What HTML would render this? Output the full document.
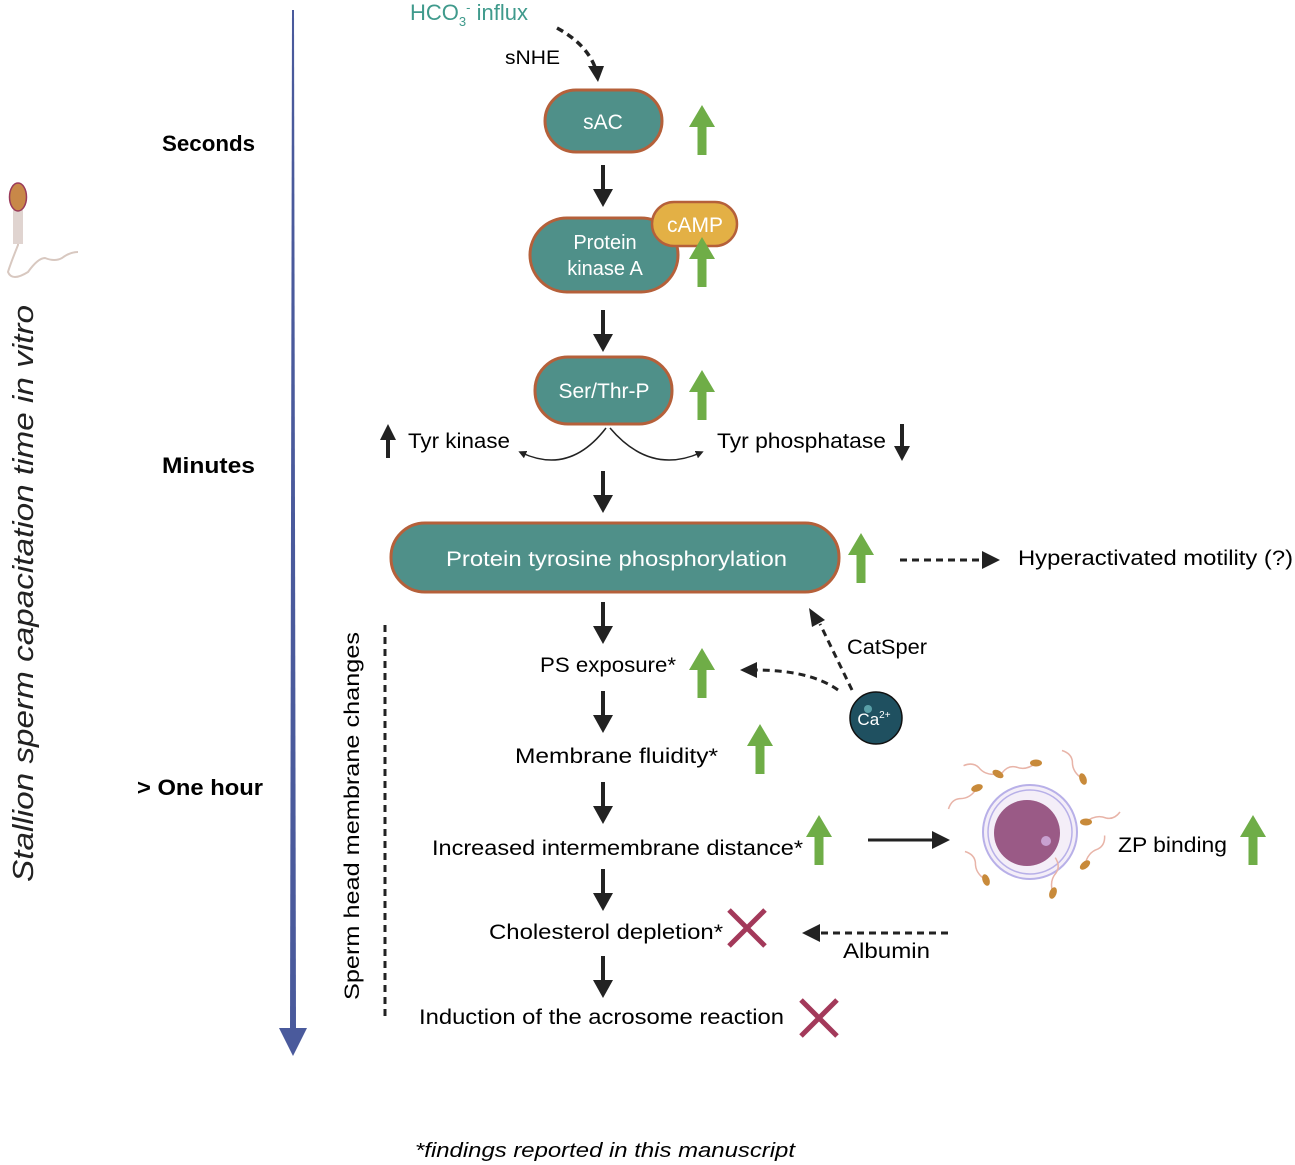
<!DOCTYPE html>
<html><head><meta charset="utf-8"><style>
html,body{margin:0;padding:0;background:#fff;}
svg{display:block;font-family:"Liberation Sans",sans-serif;}
</style></head><body>
<svg width="1295" height="1165" viewBox="0 0 1295 1165" xmlns="http://www.w3.org/2000/svg">
<defs>
<marker id="ah" markerWidth="8" markerHeight="8" refX="4" refY="4" orient="auto" markerUnits="userSpaceOnUse" viewBox="0 0 8 8"><path d="M0,0 L8,4 L0,8 z" fill="#222"/></marker>
<g id="dn"><line x1="0" y1="0" x2="0" y2="28" stroke="#222" stroke-width="4"/><path d="M-10,24 L10,24 L0,42 z" fill="#222"/></g>
<g id="gu"><rect x="-4.5" y="18" width="9" height="32" fill="#6fad47"/><path d="M-13,22 L13,22 L0,0 z" fill="#6fad47"/></g>
<g id="xx"><path d="M-18,-18 L18,18 M18,-18 L-18,18" stroke="#a3395a" stroke-width="5"/></g>
<g id="sp"><path d="M0,0 q-10,8 -20,4 q-8,-2 -14,6" stroke="#e8b4a8" stroke-width="1.5" fill="none"/><ellipse cx="0" cy="0" rx="6" ry="3.5" fill="#c88a3a"/></g>
</defs>

<path d="M292,10 L294,10 L296,1030 L290,1030 z" fill="#4a5a9c"/>
<path d="M279,1028 L307,1028 L293,1056 z" fill="#4a5a9c"/>
<text x="162" y="151" font-size="22" font-weight="bold" textLength="93" lengthAdjust="spacingAndGlyphs">Seconds</text>
<text x="162" y="473" font-size="22" font-weight="bold" textLength="93" lengthAdjust="spacingAndGlyphs">Minutes</text>
<text x="137" y="795" font-size="22" font-weight="bold" textLength="126" lengthAdjust="spacingAndGlyphs">&gt; One hour</text>
<text transform="translate(33,882) rotate(-90)" font-size="29" font-style="italic" fill="#222" textLength="577" lengthAdjust="spacingAndGlyphs">Stallion sperm capacitation time in vitro</text>

<path d="M18,212 L18,245 Q10,265 8,272 Q12,282 28,272 Q38,258 45,258 Q55,262 62,258 Q70,252 78,252" stroke="#d8c8c0" stroke-width="2" fill="none"/>
<rect x="13" y="210" width="10" height="34" fill="#e0d4d0"/>
<ellipse cx="18" cy="197" rx="8.5" ry="14" fill="#c88848" stroke="#9a3a5a" stroke-width="1.5"/>

<text x="410" y="20" font-size="22" fill="#3f9a8c">HCO<tspan font-size="13" dy="6">3</tspan><tspan font-size="13" dy="-14">-</tspan><tspan dy="8"> influx</tspan></text>
<path d="M557,28 Q588,45 596,70" stroke="#222" stroke-width="3.5" stroke-dasharray="7,5" fill="none"/>
<path d="M588,66 L604,66 L598,82 z" fill="#222"/>
<text x="505" y="64" font-size="19" textLength="55" lengthAdjust="spacingAndGlyphs">sNHE</text>

<rect x="545" y="90" width="117" height="62" rx="31" fill="#4f9089" stroke="#b5603a" stroke-width="3"/>
<text x="603" y="129" font-size="21" fill="#fff" text-anchor="middle">sAC</text>
<use href="#gu" x="702" y="105"/>
<use href="#dn" x="603" y="165"/>

<rect x="530" y="218" width="148" height="74" rx="37" fill="#4f9089" stroke="#b5603a" stroke-width="3"/>
<text x="605" y="249" font-size="20" fill="#fff" text-anchor="middle">Protein</text>
<text x="605" y="275" font-size="20" fill="#fff" text-anchor="middle">kinase A</text>
<rect x="652" y="202" width="85" height="44" rx="22" fill="#e3b045" stroke="#b5603a" stroke-width="2.5"/>
<text x="695" y="232" font-size="21" fill="#fff" text-anchor="middle">cAMP</text>
<use href="#gu" x="702" y="237"/>
<use href="#dn" x="603" y="310"/>

<rect x="535" y="357" width="137" height="67" rx="33" fill="#4f9089" stroke="#b5603a" stroke-width="3"/>
<text x="604" y="398" font-size="21" fill="#fff" text-anchor="middle">Ser/Thr-P</text>
<use href="#gu" x="702" y="370"/>

<line x1="388" y1="458" x2="388" y2="438" stroke="#222" stroke-width="4"/><path d="M380,440 L396,440 L388,424 z" fill="#222"/>
<text x="408" y="448" font-size="21" textLength="102" lengthAdjust="spacingAndGlyphs">Tyr kinase</text>
<text x="717" y="448" font-size="21" textLength="169" lengthAdjust="spacingAndGlyphs">Tyr phosphatase</text>
<line x1="902" y1="424" x2="902" y2="448" stroke="#222" stroke-width="4"/><path d="M894,446 L910,446 L902,461 z" fill="#222"/>
<path d="M606,428 Q570,475 522,453" stroke="#222" stroke-width="1.5" fill="none" marker-end="url(#ah)"/>
<path d="M610,428 Q650,475 700,453" stroke="#222" stroke-width="1.5" fill="none" marker-end="url(#ah)"/>
<use href="#dn" x="603" y="471"/>

<rect x="391" y="523" width="448" height="69" rx="34" fill="#4f9089" stroke="#b5603a" stroke-width="3"/>
<text x="446" y="566" font-size="21" fill="#fff" textLength="341" lengthAdjust="spacingAndGlyphs">Protein tyrosine phosphorylation</text>
<use href="#gu" x="861" y="533"/>
<line x1="900" y1="560" x2="985" y2="560" stroke="#222" stroke-width="3" stroke-dasharray="7,5"/>
<path d="M982,551 L1000,560 L982,569 z" fill="#222"/>
<text x="1018" y="565" font-size="21" textLength="275" lengthAdjust="spacingAndGlyphs">Hyperactivated motility (?)</text>

<use href="#dn" x="603" y="602"/>
<text x="540" y="672" font-size="21" textLength="136" lengthAdjust="spacingAndGlyphs">PS exposure*</text>
<use href="#gu" x="702" y="648"/>
<path d="M838,690 Q810,670 755,670" stroke="#222" stroke-width="3" stroke-dasharray="7,5" fill="none"/>
<path d="M757,662 L740,670 L757,678 z" fill="#222"/>
<path d="M852,690 L820,624" stroke="#222" stroke-width="3" stroke-dasharray="7,5" fill="none"/>
<path d="M812,627 L809,608 L825,620 z" fill="#222"/>
<text x="847" y="654" font-size="21" textLength="80" lengthAdjust="spacingAndGlyphs">CatSper</text>
<circle cx="876" cy="718" r="26" fill="#1f5060" stroke="#111" stroke-width="1.5"/>
<circle cx="868" cy="709" r="4" fill="#5aa0a8"/>
<text x="874" y="725" font-size="17" fill="#fff" text-anchor="middle">Ca<tspan font-size="10" dy="-7">2+</tspan></text>

<use href="#dn" x="603" y="691"/>
<text x="515" y="763" font-size="21" textLength="203" lengthAdjust="spacingAndGlyphs">Membrane fluidity*</text>
<use href="#gu" x="760" y="724"/>
<use href="#dn" x="603" y="782"/>
<text x="432" y="855" font-size="21" textLength="371" lengthAdjust="spacingAndGlyphs">Increased intermembrane distance*</text>
<use href="#gu" x="819" y="815"/>
<line x1="868" y1="840" x2="935" y2="840" stroke="#222" stroke-width="3"/>
<path d="M932,831 L950,840 L932,849 z" fill="#222"/>

<circle cx="1030" cy="832" r="47" fill="#f4eef8" stroke="#b8b0e8" stroke-width="2"/>
<circle cx="1030" cy="832" r="42" fill="none" stroke="#b8b0e8" stroke-width="1.5"/>
<circle cx="1027" cy="833" r="33" fill="#9a5a86"/>
<circle cx="1046" cy="841" r="5" fill="#c8a0d0"/>
<use href="#sp" x="998" y="774" transform="rotate(30 998 774)"/>
<use href="#sp" x="1036" y="763"/>
<use href="#sp" x="1083" y="779" transform="rotate(70 1083 779)"/>
<use href="#sp" x="977" y="788" transform="rotate(-20 977 788)"/>
<use href="#sp" x="1086" y="822" transform="rotate(180 1086 822)"/>
<use href="#sp" x="1085" y="865" transform="rotate(140 1085 865)"/>
<use href="#sp" x="1053" y="893" transform="rotate(110 1053 893)"/>
<use href="#sp" x="986" y="880" transform="rotate(70 986 880)"/>
<text x="1118" y="852" font-size="21" textLength="109" lengthAdjust="spacingAndGlyphs">ZP binding</text>
<use href="#gu" x="1253" y="815"/>

<use href="#dn" x="603" y="869"/>
<text x="489" y="939" font-size="21" textLength="234" lengthAdjust="spacingAndGlyphs">Cholesterol depletion*</text>
<use href="#xx" x="747" y="928"/>
<line x1="948" y1="933" x2="818" y2="933" stroke="#222" stroke-width="3" stroke-dasharray="7,5"/>
<path d="M820,924 L802,933 L820,942 z" fill="#222"/>
<text x="843" y="958" font-size="21" textLength="87" lengthAdjust="spacingAndGlyphs">Albumin</text>
<use href="#dn" x="603" y="956"/>
<text x="419" y="1024" font-size="21" textLength="365" lengthAdjust="spacingAndGlyphs">Induction of the acrosome reaction</text>
<use href="#xx" x="819" y="1018"/>

<line x1="385" y1="625" x2="385" y2="1018" stroke="#222" stroke-width="3" stroke-dasharray="7,5"/>
<text transform="translate(359,1000) rotate(-90)" font-size="21" textLength="368" lengthAdjust="spacingAndGlyphs">Sperm head membrane changes</text>

<text x="415" y="1157" font-size="20" font-style="italic" textLength="380" lengthAdjust="spacingAndGlyphs">*findings reported in this manuscript</text>
</svg>
</body></html>
